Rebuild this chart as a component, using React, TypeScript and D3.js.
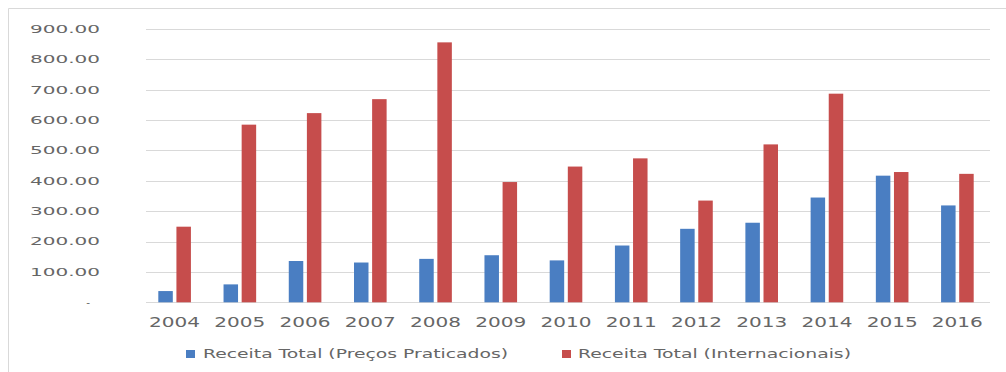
import { useEffect, useRef } from "react";
import * as d3 from "d3";

const years = ["2004", "2005", "2006", "2007", "2008", "2009", "2010", "2011", "2012", "2013", "2014", "2015", "2016"];
const precosPraticados = [37, 59, 136, 131, 143, 155, 138, 187, 242, 262, 345, 417, 319];
const internacionais = [249, 585, 623, 669, 856, 396, 447, 474, 335, 520, 687, 429, 423];
const yTicks = [0, 100, 200, 300, 400, 500, 600, 700, 800, 900];
const seriesNames = ["Receita Total (Preços Praticados)", "Receita Total (Internacionais)"];

export default function App() {
  const ref = useRef<SVGSVGElement | null>(null);

  useEffect(() => {
    const el = ref.current;
    if (!el) return;
    const svg = d3.select(el);
    svg.selectAll("*").remove();

    const width = 1006;
    const height = 372;
    const margin = { top: 29, right: 16, bottom: 70, left: 142 };
    const labelColor = "#666";
    const colors = ["#4A7EC2", "#C64D4C"];

    // chart area frame (only top and left edges visible in the crop)
    svg.append("line").attr("x1", 8.5).attr("x2", width).attr("y1", 8.5).attr("y2", 8.5).attr("stroke", "#d9d9d9");
    svg.append("line").attr("x1", 8.5).attr("x2", 8.5).attr("y1", 8.5).attr("y2", height).attr("stroke", "#d9d9d9");

    const x = d3
      .scaleBand()
      .domain(years)
      .range([margin.left, width - margin.right])
      .paddingInner(0.5)
      .paddingOuter(0.25);

    const xSub = d3.scaleBand().domain(["0", "1"]).range([0, x.bandwidth()]).paddingInner(0.2);

    const y = d3
      .scaleLinear()
      .domain([0, 900])
      .range([302.3, margin.top]);

    // gridlines
    svg
      .append("g")
      .selectAll("line")
      .data(yTicks)
      .join("line")
      .attr("x1", margin.left + 4)
      .attr("x2", width - margin.right)
      .attr("y1", (d) => Math.round(y(d)) + 0.5)
      .attr("y2", (d) => Math.round(y(d)) + 0.5)
      .attr("stroke", "#d9d9d9");

    // y labels
    const fmt = d3.format(",.2f");
    svg
      .append("g")
      .selectAll("text")
      .data(yTicks)
      .join("text")
      .attr("x", (d) => (d === 0 ? 90 : 100))
      .attr("y", (d) => y(d) + 3.8)
      .attr("text-anchor", "end")
      .attr("font-family", "DejaVu Sans")
      .attr("font-size", 10.5)
      .attr("fill", labelColor)
      .each(function (d) {
        const t = d3.select(this);
        if (d === 0) {
          t.text("-");
        } else {
          t.text(fmt(d)).attr("textLength", 70).attr("lengthAdjust", "spacingAndGlyphs");
        }
      });

    // x labels
    svg
      .append("g")
      .selectAll("text")
      .data(years)
      .join("text")
      .attr("x", (d) => (x(d) as number) + x.bandwidth() / 2)
      .attr("y", 327)
      .attr("text-anchor", "middle")
      .attr("font-family", "DejaVu Sans")
      .attr("font-size", 13.5)
      .attr("fill", labelColor)
      .attr("textLength", 51)
      .attr("lengthAdjust", "spacingAndGlyphs")
      .text((d) => d);

    // bars
    [precosPraticados, internacionais].forEach((vals, si) => {
      svg
        .append("g")
        .selectAll("rect")
        .data(vals)
        .join("rect")
        .attr("x", (_, i) => (x(years[i]) as number) + (xSub(String(si)) as number))
        .attr("y", (d) => y(d))
        .attr("width", xSub.bandwidth())
        .attr("height", (d) => y(0) - y(d))
        .attr("fill", colors[si]);
    });

    // legend
    const legend = [
      { sx: 186, tx: 203, len: 305 },
      { sx: 562, tx: 578, len: 273 },
    ];
    legend.forEach((l, i) => {
      svg.append("rect").attr("x", l.sx).attr("y", 350).attr("width", 9).attr("height", 8).attr("fill", colors[i]);
      svg
        .append("text")
        .attr("x", l.tx)
        .attr("y", 358)
        .attr("font-family", "DejaVu Sans")
        .attr("font-size", 11.5)
        .attr("fill", labelColor)
        .attr("textLength", l.len)
        .attr("lengthAdjust", "spacingAndGlyphs")
        .text(seriesNames[i]);
    });
  }, []);

  return (
    <svg
      ref={ref}
      width={1006}
      height={372}
      style={{ position: "absolute", left: 0, top: 0, background: "#fff" }}
    />
  );
}
